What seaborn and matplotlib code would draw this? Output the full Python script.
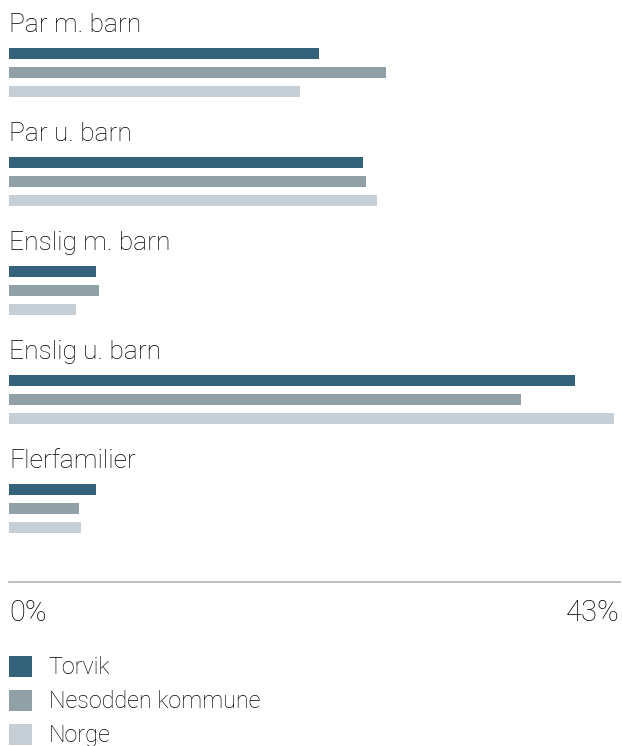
import matplotlib
matplotlib.use("Agg")
import matplotlib.pyplot as plt
from matplotlib.patches import Patch
import seaborn as sns
import pandas as pd

categories = ["Par m. barn", "Par u. barn", "Enslig m. barn", "Enslig u. barn", "Flerfamilier"]
series = ["Torvik", "Nesodden kommune", "Norge"]
torvik = [21.8, 24.9, 6.1, 39.8, 6.1]
nesodden = [26.5, 25.1, 6.3, 36.0, 4.9]
norge = [20.5, 25.9, 4.7, 42.6, 5.1]
x_ticks = [0, 43]
x_tick_labels = ["0%", "43%"]
colors = ["#33627a", "#919fa6", "#c6cfd5"]

rows = []
for s, vals in zip(series, [torvik, nesodden, norge]):
    for c, v in zip(categories, vals):
        rows.append({"category": c, "series": s, "value": v})
df = pd.DataFrame(rows)

sns.set_style("white")
plt.rcParams["font.family"] = ["Roboto", "DejaVu Sans"]
plt.rcParams["font.weight"] = "light"
text_color = "#000000"

W, H = 622, 746
fig = plt.figure(figsize=(W / 100, H / 100), dpi=100)
ax_left, ax_right = 9, 620
ax_bottom_px = 582
ax = fig.add_axes([ax_left / W, (H - ax_bottom_px) / H, (ax_right - ax_left) / W, ax_bottom_px / H])

sns.barplot(data=df, y="category", x="value", hue="series", order=categories,
            hue_order=series, palette=colors, orient="h", width=0.523, gap=0.42,
            legend=False, ax=ax, saturation=1, linewidth=0)

period = 109.0
top_center = 72.5
ax.set_ylim((ax_bottom_px - top_center) / period, -top_center / period)
ax.set_xlim(0, 43)
ax.set_yticks([])
ax.set_ylabel("")
ax.set_xlabel("")

for i, c in enumerate(categories):
    ax.text(0, i - 47.5 / period, c, ha="left", va="center", fontsize=19,
            color=text_color, fontweight="light")

for side in ["top", "left", "right"]:
    ax.spines[side].set_visible(False)
ax.spines["bottom"].set_color("#b3b3b3")
ax.spines["bottom"].set_linewidth(1.2)

ax.set_xticks(x_ticks, x_tick_labels)
ax.tick_params(axis="x", length=0, pad=22.5, labelsize=21, labelcolor=text_color)
labels = ax.get_xticklabels()
labels[0].set_horizontalalignment("left")
labels[-1].set_horizontalalignment("right")
for lb in labels:
    lb.set_verticalalignment("center")
    lb.set_fontweight("light")

handles = [Patch(facecolor=col, edgecolor="none", label=s) for s, col in zip(series, colors)]
leg = fig.legend(handles=handles, loc="upper left", bbox_to_anchor=(9 / W, (H - 656) / H),
                 frameon=False, handlelength=1.0, handleheight=1.0,
                 handletextpad=0.7, labelspacing=0.45, borderpad=0, borderaxespad=0,
                 labelcolor=text_color, prop={"weight": "light", "size": 16.8})

fig.savefig("out.png", dpi=100)
